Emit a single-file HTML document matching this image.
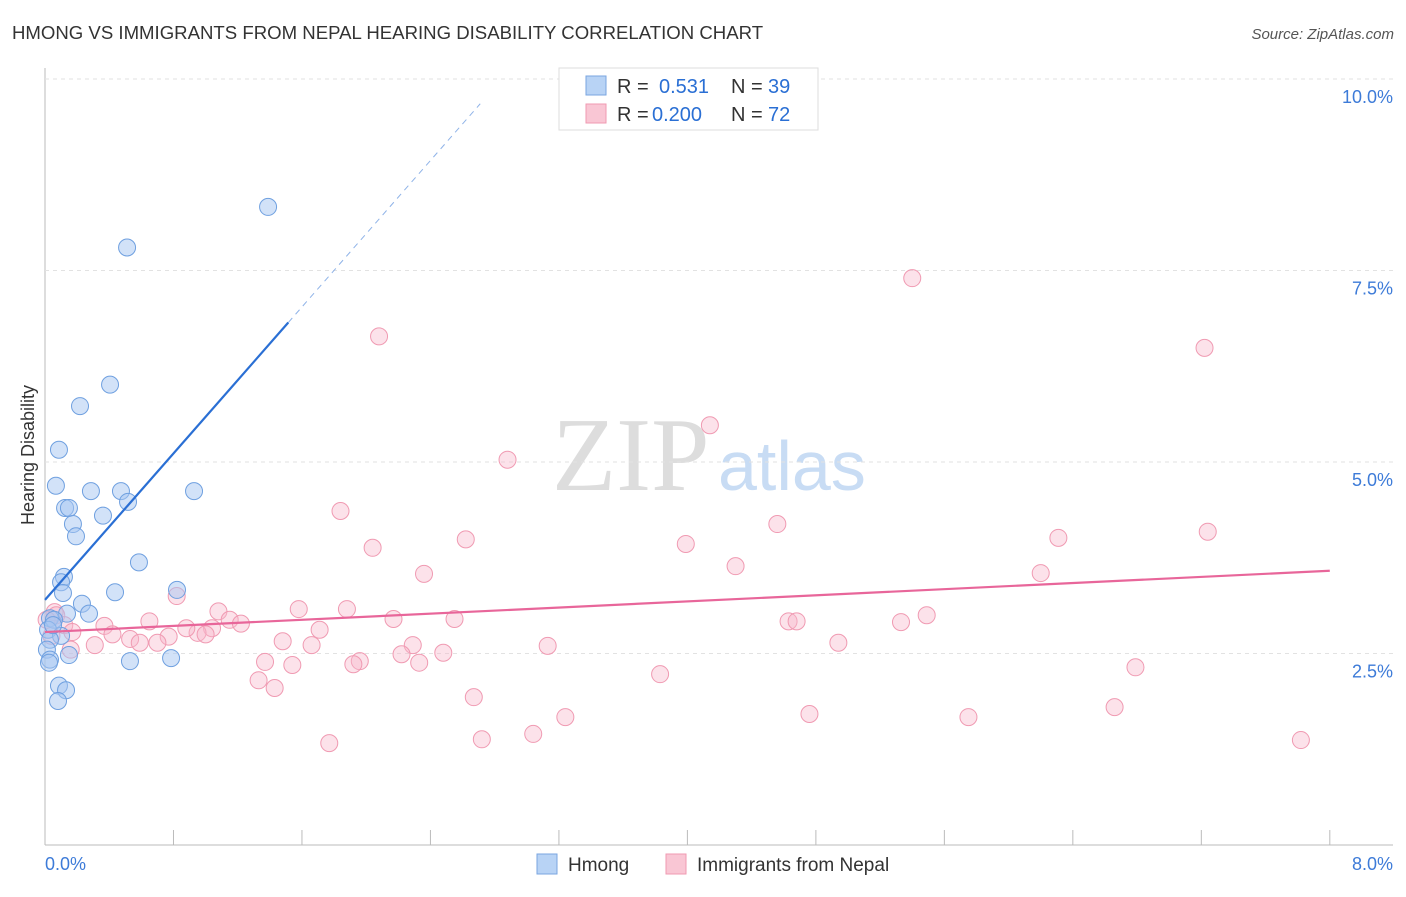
<!DOCTYPE html>
<html><head><meta charset="utf-8"><style>
body{margin:0;background:#fff;font-family:"Liberation Sans",sans-serif}
</style></head><body>
<svg id="c" width="1406" height="892" style="font-family:'Liberation Sans',sans-serif">
<text x="12" y="39" font-size="18.6" fill="#333">HMONG VS IMMIGRANTS FROM NEPAL HEARING DISABILITY CORRELATION CHART</text>
<text x="1394" y="39" font-size="15" fill="#555" text-anchor="end" font-style="italic">Source: ZipAtlas.com</text>
<text x="552" y="490" font-size="105" fill="#ddd" style="font-family:'Liberation Serif',serif">ZIP</text>
<text x="718" y="490" font-size="70" fill="#c8dcf4">atlas</text>
<text transform="translate(34,455) rotate(-90)" font-size="18" fill="#333" text-anchor="middle">Hearing Disability</text>
<g id="grid"></g><g id="marks"></g>
<g>
<rect x="559" y="68" width="259" height="62" fill="#fff" stroke="#ddd"/>
<rect x="586" y="76" width="20" height="19" fill="#b8d3f5" stroke="#7aa6e0"/>
<rect x="586" y="104" width="20" height="19" fill="#f9c6d4" stroke="#f09ab2"/>
<text x="617" y="93" font-size="20" fill="#333">R = <tspan x="659" fill="#2a6fd4">0.531</tspan><tspan x="731">N = </tspan><tspan x="768" fill="#2a6fd4">39</tspan></text>
<text x="617" y="121" font-size="20" fill="#333">R = <tspan x="652" fill="#2a6fd4">0.200</tspan><tspan x="731">N = </tspan><tspan x="768" fill="#2a6fd4">72</tspan></text>
</g>
<g>
<rect x="537" y="854" width="20" height="20" fill="#b8d3f5" stroke="#7aa6e0"/>
<text x="568" y="871" font-size="19" fill="#333">Hmong</text>
<rect x="666" y="854" width="20" height="20" fill="#f9c6d4" stroke="#f09ab2"/>
<text x="697" y="871" font-size="19" fill="#333">Immigrants from Nepal</text>
</g>
</svg>
<script>
const xTicks=[0,0.8,1.6,2.4,3.2,4.0,4.8,5.6,6.4,7.2,8.0];
const yTicks=[2.5,5.0,7.5,10.0];
const yTickLabels=["2.5%","5.0%","7.5%","10.0%"];
const hmongX=[1.389,0.511,0.405,0.218,0.087,0.068,0.286,0.473,0.928,0.125,0.149,0.517,0.361,0.174,0.193,0.585,0.118,0.100,0.112,0.436,0.822,0.230,0.274,0.137,0.031,0.056,0.019,0.100,0.031,0.012,0.529,0.785,0.149,0.031,0.025,0.087,0.131,0.081,0.050];
const hmongY=[8.33,7.80,6.01,5.73,5.16,4.69,4.62,4.62,4.62,4.40,4.40,4.48,4.30,4.19,4.03,3.69,3.50,3.43,3.29,3.30,3.33,3.15,3.02,3.02,2.96,2.94,2.81,2.73,2.68,2.55,2.40,2.44,2.48,2.42,2.38,2.08,2.02,1.88,2.87];
const nepalX=[5.40,2.08,7.22,4.14,2.88,1.84,4.56,7.24,2.62,6.31,3.99,2.04,4.30,2.36,6.20,0.82,1.58,1.08,1.88,5.49,2.55,2.17,0.65,4.63,4.68,5.33,1.15,1.22,0.37,1.04,1.71,1.48,0.95,0.88,1.00,0.77,0.42,0.53,0.59,0.70,0.31,0.06,0.07,0.01,0.12,0.17,0.04,0.16,3.13,4.94,2.29,1.66,2.48,2.22,1.37,1.54,1.96,1.92,2.33,6.79,3.83,1.33,1.43,2.67,3.24,4.76,5.75,6.66,3.04,2.72,1.77,7.82];
const nepalY=[7.40,6.64,6.49,5.48,5.03,4.36,4.19,4.09,3.99,4.01,3.93,3.88,3.64,3.54,3.55,3.25,3.08,3.05,3.08,3.00,2.95,2.95,2.92,2.92,2.92,2.91,2.94,2.89,2.86,2.83,2.81,2.66,2.77,2.83,2.75,2.72,2.75,2.69,2.64,2.64,2.61,3.04,3.00,2.94,2.87,2.78,2.73,2.55,2.60,2.64,2.61,2.61,2.51,2.49,2.39,2.35,2.40,2.36,2.38,2.32,2.23,2.15,2.05,1.93,1.67,1.71,1.67,1.80,1.45,1.38,1.33,1.37];
const hmongTrend=[3.20,2.39];
const nepalTrend=[2.78,0.10];
const X=v=>45+v*160.6, Y=v=>845-v*76.6;
const NS="http://www.w3.org/2000/svg";
function mk(p,t,a){const e=document.createElementNS(NS,t);for(const k in a)e.setAttribute(k,a[k]);p.appendChild(e);return e;}
const g=document.getElementById('grid'), m=document.getElementById('marks');
let ax=mk(g,'line',{x1:45,y1:68,x2:45,y2:845,stroke:'#bbb'});


let bx=mk(g,'line',{x1:45,y1:845,x2:1393,y2:845,stroke:'#bbb'});


yTicks.forEach((v,i)=>{
 const l=mk(g,'line',{x1:45,y1:Y(v),x2:1393,y2:Y(v),stroke:'#e2e2e2','stroke-dasharray':'4,4'});
 
 
 const t=mk(g,'text',{x:1393,y:Y(v)+24,'font-size':18,fill:'#3d7bd8','text-anchor':'end'});
 t.textContent=yTickLabels[i];
 
 
});
xTicks.forEach(v=>{
 if(v===0)return;
 const l=mk(g,'line',{x1:X(v),y1:830,x2:X(v),y2:845,stroke:'#bbb'});
 
 
});
let t0=mk(g,'text',{x:45,y:870,'font-size':18,fill:'#3d7bd8'});t0.textContent='0.0%';


let t1=mk(g,'text',{x:1393,y:870,'font-size':18,fill:'#3d7bd8','text-anchor':'end'});t1.textContent='8.0%';


nepalX.forEach((x,i)=>{
 const c=mk(m,'circle',{cx:X(x),cy:Y(nepalY[i]),r:8.5,fill:'rgba(248,182,202,0.4)',stroke:'#f09ab2','stroke-width':1});
 
 
});
hmongX.forEach((x,i)=>{
 const c=mk(m,'circle',{cx:X(x),cy:Y(hmongY[i]),r:8.5,fill:'rgba(165,198,242,0.5)',stroke:'#6fa0e0','stroke-width':1});
 
 
});
const hx1=1.515,hx2=2.71;
let h1=mk(m,'line',{x1:X(0),y1:Y(hmongTrend[0]),x2:X(hx1),y2:Y(hmongTrend[0]+hmongTrend[1]*hx1),stroke:'#2a6fd4','stroke-width':2.2});


let h2=mk(m,'line',{x1:X(hx1),y1:Y(hmongTrend[0]+hmongTrend[1]*hx1),x2:X(hx2),y2:Y(hmongTrend[0]+hmongTrend[1]*hx2),stroke:'#8fb3e8','stroke-width':1,'stroke-dasharray':'6,5'});


let p1=mk(m,'line',{x1:X(0),y1:Y(nepalTrend[0]),x2:X(8),y2:Y(nepalTrend[0]+nepalTrend[1]*8),stroke:'#e8669a','stroke-width':2.2});


</script>
</body></html>
